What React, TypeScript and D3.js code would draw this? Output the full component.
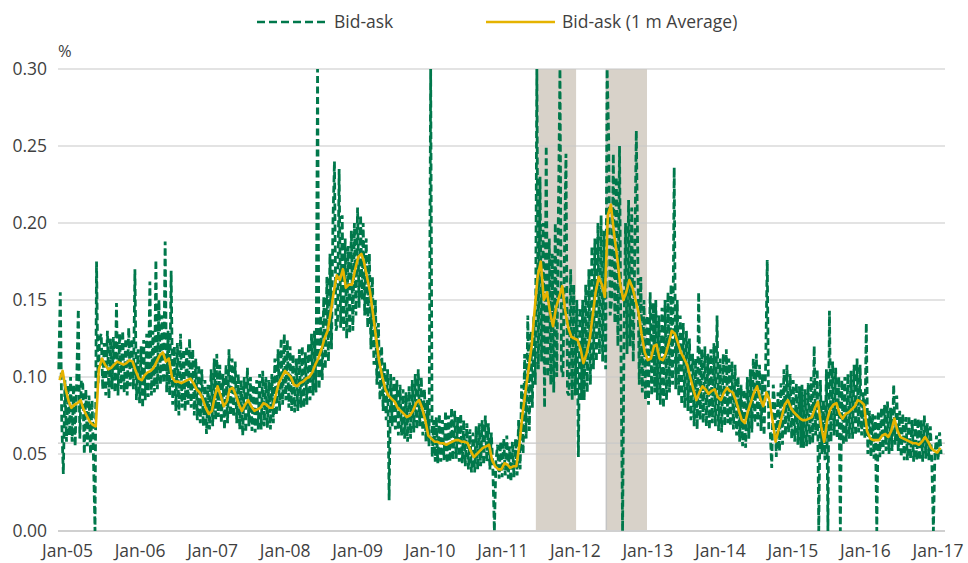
import React, { useEffect, useRef } from "react";
import * as d3 from "d3";

// x-axis labels, y ticks, shaded stress periods
const yearLabels = ["Jan-05", "Jan-06", "Jan-07", "Jan-08", "Jan-09", "Jan-10", "Jan-11", "Jan-12", "Jan-13", "Jan-14", "Jan-15", "Jan-16", "Jan-17"];
const yTicks = [0, 0.05, 0.1, 0.15, 0.2, 0.25, 0.3];
const shadedPeriods = [
  ["2011-07-15", "2012-02-01"],
  ["2012-07-01", "2013-01-20"],
];
const refLevels = [0.057];

// Bid-ask, roughly weekly (4 readings per month)
const bidAsk05 = [0.105, 0.155, 0.070, 0.037, 0.098, 0.058, 0.095, 0.062, 0.100, 0.058, 0.095, 0.055, 0.100, 0.144, 0.060, 0.098, 0.095, 0.050, 0.092, 0.055, 0.088, 0.050, 0.085, 0.045, 0.000, 0.175, 0.095, 0.125, 0.128, 0.092, 0.122, 0.088, 0.130, 0.086, 0.125, 0.092, 0.126, 0.090, 0.148, 0.088, 0.128, 0.092, 0.130, 0.090, 0.125, 0.088, 0.132, 0.094];
const bidAsk06 = [0.125, 0.092, 0.170, 0.085, 0.118, 0.083, 0.120, 0.080, 0.124, 0.085, 0.128, 0.087, 0.162, 0.088, 0.130, 0.090, 0.176, 0.092, 0.150, 0.095, 0.140, 0.096, 0.188, 0.090, 0.130, 0.088, 0.169, 0.082, 0.120, 0.078, 0.122, 0.075, 0.128, 0.080, 0.118, 0.078, 0.120, 0.082, 0.125, 0.080, 0.118, 0.075, 0.112, 0.072, 0.108, 0.070, 0.105, 0.068];
const bidAsk07 = [0.098, 0.063, 0.095, 0.066, 0.105, 0.068, 0.112, 0.072, 0.115, 0.074, 0.108, 0.070, 0.102, 0.066, 0.108, 0.070, 0.118, 0.075, 0.112, 0.074, 0.110, 0.070, 0.102, 0.066, 0.098, 0.062, 0.100, 0.064, 0.106, 0.068, 0.100, 0.065, 0.095, 0.064, 0.098, 0.066, 0.102, 0.066, 0.104, 0.068, 0.100, 0.067, 0.098, 0.066, 0.102, 0.070, 0.112, 0.075];
const bidAsk08 = [0.118, 0.078, 0.125, 0.082, 0.128, 0.085, 0.124, 0.080, 0.120, 0.078, 0.115, 0.077, 0.112, 0.078, 0.118, 0.080, 0.120, 0.080, 0.116, 0.082, 0.122, 0.085, 0.128, 0.088, 0.130, 0.090, 0.300, 0.092, 0.140, 0.098, 0.152, 0.105, 0.165, 0.110, 0.180, 0.118, 0.200, 0.240, 0.130, 0.135, 0.235, 0.132, 0.205, 0.130, 0.190, 0.125, 0.185, 0.128];
const bidAsk09 = [0.195, 0.130, 0.200, 0.140, 0.210, 0.145, 0.205, 0.150, 0.200, 0.140, 0.190, 0.132, 0.180, 0.118, 0.165, 0.108, 0.150, 0.095, 0.135, 0.085, 0.120, 0.078, 0.110, 0.072, 0.105, 0.020, 0.102, 0.068, 0.100, 0.066, 0.098, 0.062, 0.095, 0.062, 0.092, 0.060, 0.090, 0.058, 0.094, 0.060, 0.098, 0.064, 0.102, 0.066, 0.105, 0.068, 0.100, 0.062];
const bidAsk10 = [0.092, 0.058, 0.085, 0.055, 0.300, 0.048, 0.072, 0.045, 0.074, 0.044, 0.076, 0.045, 0.072, 0.046, 0.078, 0.044, 0.075, 0.045, 0.080, 0.046, 0.078, 0.047, 0.074, 0.045, 0.076, 0.044, 0.072, 0.042, 0.070, 0.040, 0.066, 0.038, 0.064, 0.038, 0.068, 0.040, 0.070, 0.042, 0.072, 0.043, 0.075, 0.045, 0.070, 0.040, 0.064, 0.040, 0.000, 0.045];
const bidAsk11 = [0.056, 0.034, 0.058, 0.035, 0.060, 0.036, 0.062, 0.034, 0.055, 0.032, 0.058, 0.035, 0.060, 0.036, 0.072, 0.040, 0.095, 0.050, 0.115, 0.060, 0.140, 0.065, 0.130, 0.080, 0.140, 0.095, 0.300, 0.105, 0.230, 0.110, 0.200, 0.080, 0.250, 0.100, 0.190, 0.095, 0.180, 0.090, 0.200, 0.100, 0.210, 0.300, 0.105, 0.100, 0.180, 0.245, 0.090, 0.088];
const bidAsk12 = [0.170, 0.085, 0.160, 0.088, 0.150, 0.048, 0.145, 0.085, 0.150, 0.085, 0.160, 0.090, 0.170, 0.095, 0.185, 0.105, 0.190, 0.110, 0.200, 0.115, 0.205, 0.110, 0.195, 0.105, 0.300, 0.257, 0.140, 0.150, 0.245, 0.135, 0.230, 0.120, 0.250, 0.110, 0.000, 0.130, 0.200, 0.115, 0.215, 0.120, 0.210, 0.110, 0.180, 0.260, 0.180, 0.095, 0.165, 0.090];
const bidAsk13 = [0.150, 0.085, 0.140, 0.082, 0.155, 0.088, 0.148, 0.090, 0.150, 0.085, 0.140, 0.082, 0.145, 0.080, 0.150, 0.085, 0.155, 0.090, 0.160, 0.095, 0.236, 0.092, 0.150, 0.088, 0.140, 0.082, 0.135, 0.080, 0.130, 0.078, 0.125, 0.072, 0.115, 0.068, 0.112, 0.066, 0.155, 0.072, 0.118, 0.070, 0.120, 0.068, 0.115, 0.066, 0.118, 0.070, 0.122, 0.068];
const bidAsk14 = [0.140, 0.065, 0.112, 0.064, 0.115, 0.068, 0.118, 0.070, 0.112, 0.068, 0.110, 0.066, 0.108, 0.062, 0.100, 0.058, 0.095, 0.055, 0.092, 0.054, 0.100, 0.060, 0.105, 0.064, 0.112, 0.070, 0.115, 0.068, 0.108, 0.065, 0.102, 0.062, 0.110, 0.176, 0.066, 0.064, 0.041, 0.095, 0.082, 0.048, 0.090, 0.052, 0.096, 0.056, 0.105, 0.062, 0.108, 0.064];
const bidAsk15 = [0.102, 0.060, 0.098, 0.058, 0.096, 0.056, 0.094, 0.054, 0.095, 0.054, 0.092, 0.055, 0.096, 0.056, 0.100, 0.057, 0.120, 0.062, 0.105, 0.000, 0.098, 0.050, 0.085, 0.046, 0.105, 0.000, 0.143, 0.058, 0.110, 0.062, 0.106, 0.060, 0.100, 0.000, 0.098, 0.056, 0.100, 0.058, 0.102, 0.060, 0.104, 0.060, 0.108, 0.062, 0.112, 0.064, 0.108, 0.062];
const bidAsk16 = [0.090, 0.060, 0.135, 0.050, 0.078, 0.048, 0.076, 0.047, 0.075, 0.000, 0.078, 0.048, 0.080, 0.050, 0.082, 0.052, 0.084, 0.050, 0.080, 0.052, 0.095, 0.056, 0.088, 0.052, 0.078, 0.048, 0.076, 0.046, 0.074, 0.046, 0.075, 0.047, 0.072, 0.045, 0.074, 0.046, 0.073, 0.046, 0.072, 0.045, 0.075, 0.047, 0.070, 0.046, 0.068, 0.044, 0.000, 0.050];
const bidAsk17 = [0.062, 0.046, 0.064, 0.050];

// Bid-ask 1 month average, two readings per month
const avg05 = [0.098, 0.104, 0.092, 0.084, 0.080, 0.082, 0.083, 0.085, 0.079, 0.075, 0.071, 0.069, 0.068, 0.105, 0.112, 0.108, 0.105, 0.106, 0.108, 0.110, 0.109, 0.108, 0.109, 0.111];
const avg06 = [0.110, 0.104, 0.099, 0.098, 0.101, 0.103, 0.104, 0.106, 0.110, 0.114, 0.116, 0.110, 0.112, 0.100, 0.097, 0.097, 0.096, 0.097, 0.098, 0.099, 0.096, 0.092, 0.090, 0.086];
const avg07 = [0.080, 0.076, 0.078, 0.088, 0.094, 0.088, 0.081, 0.084, 0.092, 0.093, 0.088, 0.082, 0.078, 0.082, 0.085, 0.081, 0.078, 0.079, 0.080, 0.083, 0.082, 0.080, 0.080, 0.088];
const avg08 = [0.096, 0.100, 0.104, 0.102, 0.100, 0.095, 0.094, 0.096, 0.097, 0.099, 0.100, 0.103, 0.108, 0.112, 0.118, 0.125, 0.130, 0.142, 0.155, 0.166, 0.163, 0.170, 0.158, 0.160];
const avg09 = [0.160, 0.170, 0.178, 0.180, 0.175, 0.165, 0.155, 0.140, 0.125, 0.110, 0.100, 0.092, 0.088, 0.086, 0.084, 0.080, 0.078, 0.076, 0.074, 0.075, 0.078, 0.083, 0.085, 0.080];
const avg10 = [0.072, 0.062, 0.060, 0.058, 0.058, 0.057, 0.057, 0.056, 0.057, 0.058, 0.059, 0.059, 0.058, 0.058, 0.057, 0.052, 0.048, 0.050, 0.052, 0.054, 0.055, 0.056, 0.046, 0.042];
const avg11 = [0.040, 0.040, 0.044, 0.043, 0.041, 0.042, 0.042, 0.056, 0.075, 0.090, 0.105, 0.120, 0.143, 0.165, 0.175, 0.150, 0.155, 0.142, 0.133, 0.145, 0.152, 0.159, 0.143, 0.132];
const avg12 = [0.126, 0.125, 0.124, 0.118, 0.109, 0.115, 0.124, 0.140, 0.155, 0.165, 0.160, 0.152, 0.205, 0.212, 0.193, 0.178, 0.160, 0.150, 0.155, 0.163, 0.158, 0.150, 0.142, 0.128];
const avg13 = [0.116, 0.111, 0.112, 0.120, 0.121, 0.112, 0.111, 0.115, 0.122, 0.130, 0.128, 0.122, 0.116, 0.112, 0.108, 0.100, 0.092, 0.085, 0.090, 0.094, 0.092, 0.089, 0.091, 0.092];
const avg14 = [0.087, 0.085, 0.090, 0.093, 0.091, 0.090, 0.085, 0.078, 0.072, 0.070, 0.078, 0.084, 0.090, 0.094, 0.086, 0.081, 0.090, 0.085, 0.072, 0.058, 0.066, 0.074, 0.082, 0.085];
const avg15 = [0.080, 0.077, 0.075, 0.073, 0.072, 0.072, 0.073, 0.074, 0.080, 0.084, 0.068, 0.058, 0.072, 0.079, 0.082, 0.083, 0.076, 0.073, 0.076, 0.077, 0.079, 0.081, 0.085, 0.084];
const avg16 = [0.082, 0.065, 0.060, 0.059, 0.059, 0.059, 0.062, 0.063, 0.061, 0.065, 0.073, 0.065, 0.061, 0.060, 0.059, 0.058, 0.057, 0.057, 0.056, 0.058, 0.061, 0.058, 0.054, 0.052];
const avg17 = [0.051, 0.054];

const bidAskYears = [bidAsk05, bidAsk06, bidAsk07, bidAsk08, bidAsk09, bidAsk10, bidAsk11, bidAsk12, bidAsk13, bidAsk14, bidAsk15, bidAsk16, bidAsk17];
const avgYears = [avg05, avg06, avg07, avg08, avg09, avg10, avg11, avg12, avg13, avg14, avg15, avg16, avg17];

type Pt = { date: Date; v: number };

const DAY = 86400000;

// readings per month -> dates within the month
function toPoints(years: number[][], perMonth: number): Pt[] {
  const out: Pt[] = [];
  years.forEach((vals, yi) => {
    vals.forEach((v, i) => {
      const m = Math.floor(i / perMonth);
      const k = i % perMonth;
      const start = new Date(2005 + yi, m, 1).getTime();
      const step = 30.4 / perMonth;
      out.push({ date: new Date(start + (k * step + step / 2) * DAY), v });
    });
  });
  return out;
}

const GREEN = "#00784b";
const YELLOW = "#e5b300";
const TEXT = "#3f3f3f";
const FONT = "'Open Sans', 'Noto Sans', sans-serif";
const FS = 17.5;

function BidAskChart() {
  const ref = useRef<SVGSVGElement | null>(null);
  const width = 968;
  const height = 563;
  const plotLeft = 58;
  const plotRight = 945;
  const dataRight = 942;
  const plotTop = 69;
  const plotBottom = 531;

  useEffect(() => {
    const bidAsk = toPoints(bidAskYears, 4);
    const avg = toPoints(avgYears, 2);

    const x = d3
      .scaleTime()
      .domain([new Date(2005, 0, 1), new Date(2017, 1, 1)])
      .range([plotLeft, dataRight]);
    const y = d3.scaleLinear().domain([0, 0.3]).range([plotBottom, plotTop]);
    const xLab = d3.scalePoint<string>().domain(yearLabels).range([67.5, 938]);

    const svg = d3.select(ref.current);
    svg.selectAll("*").remove();
    svg
      .attr("width", width)
      .attr("height", height)
      .attr("viewBox", [0, 0, width, height])
      .style("font-family", FONT);

    // shaded periods
    svg
      .append("g")
      .selectAll("rect")
      .data(shadedPeriods)
      .join("rect")
      .attr("x", (d) => x(new Date(d[0])))
      .attr("width", (d) => x(new Date(d[1])) - x(new Date(d[0])))
      .attr("y", plotTop)
      .attr("height", plotBottom - plotTop)
      .attr("fill", "#d8d2c9");
    svg
      .append("line")
      .attr("x1", x(new Date(shadedPeriods[1][0])))
      .attr("x2", x(new Date(shadedPeriods[1][0])))
      .attr("y1", plotTop)
      .attr("y2", plotBottom)
      .attr("stroke", "#c4c4c4")
      .attr("stroke-width", 1.5);

    // gridlines
    svg
      .append("g")
      .selectAll("line")
      .data(yTicks.concat(refLevels))
      .join("line")
      .attr("x1", plotLeft)
      .attr("x2", plotRight)
      .attr("y1", (d) => y(d))
      .attr("y2", (d) => y(d))
      .attr("stroke", (d) => (d === 0 ? "#d0d0d0" : "#c8c8c8"))
      .attr("stroke-width", (d) => (d === 0 ? 2 : 1.2));

    // y labels
    svg
      .append("g")
      .selectAll("text")
      .data(yTicks)
      .join("text")
      .attr("x", 47)
      .attr("y", (d) => y(d))
      .attr("dy", "0.35em")
      .attr("text-anchor", "end")
      .attr("font-size", FS)
      .attr("fill", TEXT)
      .text((d) => d3.format(".2f")(d));

    svg
      .append("text")
      .attr("x", 58)
      .attr("y", 57)
      .attr("font-size", FS - 1)
      .attr("fill", TEXT)
      .text("%");

    // x labels
    svg
      .append("g")
      .selectAll("text")
      .data(yearLabels)
      .join("text")
      .attr("x", (d) => xLab(d) as number)
      .attr("y", 557)
      .attr("text-anchor", "middle")
      .attr("font-size", FS)
      .attr("fill", TEXT)
      .text((d) => d);

    const line = d3
      .line<Pt>()
      .x((d) => x(d.date))
      .y((d) => y(d.v));

    svg
      .append("path")
      .datum(bidAsk)
      .attr("fill", "none")
      .attr("stroke", GREEN)
      .attr("stroke-width", 2.8)
      .attr("stroke-dasharray", "7,3.5")
      .attr("d", line);

    svg
      .append("path")
      .datum(avg)
      .attr("fill", "none")
      .attr("stroke", YELLOW)
      .attr("stroke-width", 2.6)
      .attr("stroke-linejoin", "round")
      .attr("d", line);

    // legend
    const legend = svg.append("g").attr("font-size", FS).attr("fill", TEXT);
    legend
      .append("line")
      .attr("x1", 257)
      .attr("x2", 327)
      .attr("y1", 22)
      .attr("y2", 22)
      .attr("stroke", GREEN)
      .attr("stroke-width", 2.6)
      .attr("stroke-dasharray", "8,4");
    legend.append("text").attr("x", 334).attr("y", 22).attr("dy", "0.35em").text("Bid-ask");
    legend
      .append("line")
      .attr("x1", 486)
      .attr("x2", 555)
      .attr("y1", 22)
      .attr("y2", 22)
      .attr("stroke", YELLOW)
      .attr("stroke-width", 2.6);
    legend.append("text").attr("x", 562).attr("y", 22).attr("dy", "0.35em").text("Bid-ask (1 m Average)");
  }, []);

  return <svg ref={ref} style={{ position: "absolute", left: 0, top: 0 }}></svg>;
}

export default function App() {
  return (
    <div>
      <BidAskChart />
    </div>
  );
}
